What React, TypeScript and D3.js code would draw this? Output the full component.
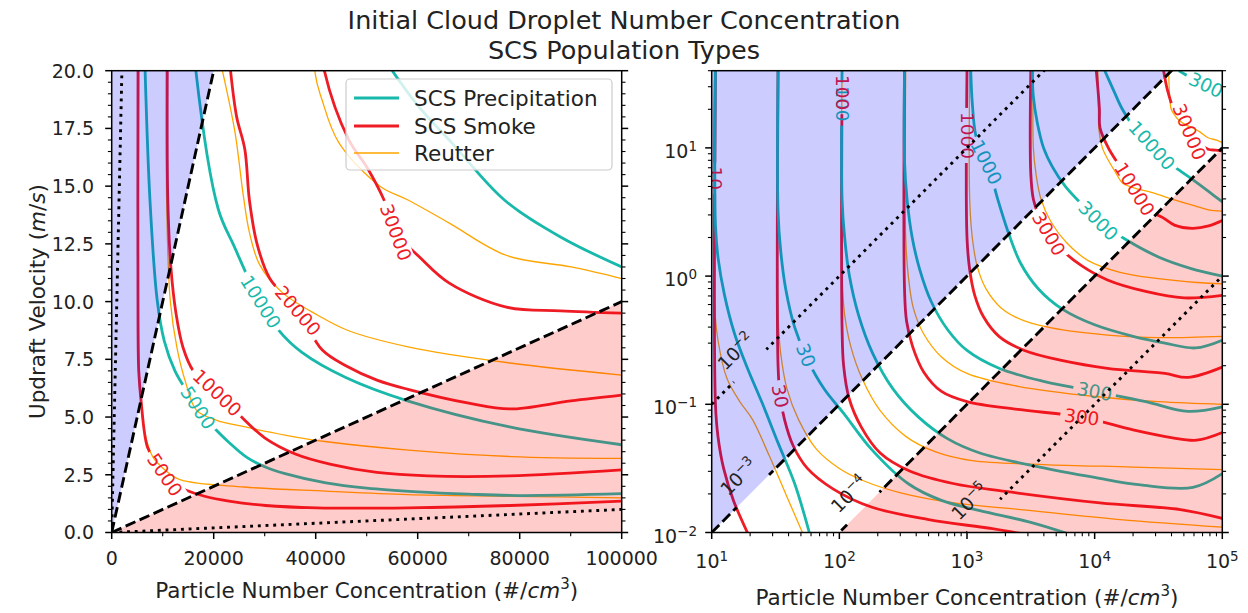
import React from "react";
import * as d3 from "d3";

type Pt = [number, number];
type Series = "precip" | "smoke" | "reutter";

// ---- contour lines: [particle number N (#/cm3), updraft w (m/s)] ----
// linear panel
const precip5000: Pt[] = [[6550, 20], [7500, 14.4], [8900, 10.1], [10300, 8.3], [12400, 7.0], [14500, 6.2], [16900, 5.4], [19800, 4.6], [23000, 3.9], [26500, 3.25], [30000, 2.85], [34000, 2.55], [42000, 2.15], [50000, 1.92], [60000, 1.76], [70000, 1.66], [80000, 1.6], [100000, 1.68]];
const precip20000: Pt[] = [[55000, 20], [60000, 18.5], [67000, 16.8], [77000, 14.4], [88000, 12.8], [100000, 11.5]];
const smoke5000: Pt[] = [[5160, 20], [5160, 9], [5300, 7], [5760, 5.7], [7000, 3.7], [8560, 3.1], [10400, 2.5], [12000, 2.1], [14200, 1.86], [18200, 1.57], [23000, 1.36], [30200, 1.17], [40200, 1.07], [58200, 1.07], [78200, 1.17], [100000, 1.36]];
const smoke10000Lin: Pt[] = [[10900, 20], [11000, 14.4], [11600, 11.5], [12600, 9.5], [14000, 8.0], [16000, 7.0], [18500, 6.5], [20900, 6.0], [25000, 5.1], [30000, 4.1], [36000, 3.4], [43000, 2.95], [52000, 2.6], [62000, 2.45], [78000, 2.45], [100000, 2.71]];
const smoke20000: Pt[] = [[23300, 20], [24500, 18], [26100, 16.6], [27000, 14.4], [28500, 12.5], [31000, 11.0], [36500, 9.6], [41300, 7.9], [46100, 7.2], [52000, 6.6], [58100, 6.2], [70000, 5.6], [78000, 5.35], [90000, 5.7], [100000, 5.95]];
const reutter5000: Pt[] = [[5300, 20], [5300, 8], [5600, 6], [6500, 4.3], [8000, 3.3], [10500, 2.7], [13400, 2.29], [26000, 1.97], [42000, 1.79], [58000, 1.64], [78000, 1.57], [100000, 1.5]];
const reutter20000: Pt[] = [[21700, 20], [24200, 17.3], [25800, 14.6], [27000, 13.0], [29000, 11.6], [33400, 10.4], [40500, 9.4], [46100, 8.77], [58100, 8.04], [78100, 7.34], [100000, 6.82]];

// levels drawn in both panels
const precip10000: Pt[] = [[12000, 40], [14100, 28], [16500, 20], [20900, 14], [24000, 12.4], [28600, 10.2], [32600, 8.8], [37300, 7.8], [46000, 6.7], [58000, 5.7], [78000, 4.57], [100000, 3.8]];
const precip30000: Pt[] = [[45700, 40], [56200, 35.5], [70800, 31.6], [100000, 26.9]];
const smoke30000: Pt[] = [[34700, 40], [37200, 28.2], [41700, 20], [46500, 17], [50100, 15.8], [53400, 14.4], [55700, 13], [60500, 11.9], [66200, 10.8], [77400, 9.76], [88000, 9.6], [100000, 9.5]];
const reutter10000: Pt[] = [[10600, 40], [10700, 20], [10800, 14], [11500, 10], [12800, 8], [14500, 6.5], [16600, 5.3], [20600, 4.86], [26200, 4.57], [34200, 4.21], [42200, 3.93], [58200, 3.57], [78200, 3.29], [100000, 3.21]];
const reutter30000: Pt[] = [[38000, 40], [39800, 20], [41300, 18.7], [44500, 16.9], [52600, 15], [58100, 14.4], [66200, 13.4], [77400, 12], [90100, 11.5], [100000, 11]];

// log panel
const smoke10000Log: Pt[] = [[10300, 40], [10900, 20], [11000, 14.4], [12800, 10], [14800, 7.9], [16800, 6.6], [21000, 4.6], [26200, 3.3], [34200, 2.86], [42200, 2.5], [58200, 2.36], [78200, 2.46], [100000, 2.71]];
const precip10: Pt[] = [[10.7, 40], [10.7, 2.5], [11.2, 1.4], [12.6, 0.71], [15.1, 0.355], [19.1, 0.19], [25.1, 0.1], [33.1, 0.05], [44.7, 0.024], [59, 0.0095]];
const precip30: Pt[] = [[33.1, 40], [33.1, 3.16], [34.7, 1.58], [38, 0.794], [44.7, 0.398], [56.2, 0.224], [75.9, 0.132], [110, 0.0832], [178, 0.0447], [347, 0.024], [631, 0.0178], [1260, 0.0148], [3160, 0.012], [6760, 0.0095]];
const precip100: Pt[] = [[105, 40], [105, 3.98], [110, 2.0], [120, 1.0], [141, 0.501], [182, 0.251], [263, 0.132], [417, 0.0794], [708, 0.0537], [1260, 0.0417], [3720, 0.0324], [10000, 0.0269], [22900, 0.0235], [58900, 0.0225], [100000, 0.0288]];
const precip300: Pt[] = [[324, 40], [324, 7.94], [339, 3.98], [372, 2.0], [427, 1.12], [525, 0.631], [708, 0.38], [1000, 0.263], [1780, 0.191], [3980, 0.151], [10000, 0.126], [25100, 0.105], [53700, 0.088], [100000, 0.0955]];
const precip1000: Pt[] = [[1070, 40], [1100, 22.4], [1170, 12.6], [1320, 8.91], [1480, 7.08], [1740, 3.98], [2090, 2.24], [2630, 1.26], [3630, 0.794], [5620, 0.55], [10000, 0.417], [20000, 0.339], [35500, 0.3], [61700, 0.275], [100000, 0.316]];
const precip3000: Pt[] = [[3240, 40], [3310, 25.1], [3550, 15.8], [3980, 10], [4680, 7.08], [5890, 5.01], [7940, 3.63], [10700, 2.69], [17800, 1.91], [31600, 1.41], [56200, 1.15], [100000, 1.0]];
const smoke10: Pt[] = [[10.7, 40], [10.7, 0.1], [11.2, 0.056], [12.4, 0.0316], [14.8, 0.0178], [19.5, 0.0095]];
const smoke30: Pt[] = [[33.1, 40], [33.1, 0.2], [34.3, 0.117], [37.2, 0.0759], [43.3, 0.0479], [56.2, 0.0316], [89.1, 0.0219], [178, 0.0158], [501, 0.0126], [1580, 0.0107], [3160, 0.0095]];
const smoke100: Pt[] = [[105, 40], [105, 0.398], [108, 0.2], [119, 0.112], [149, 0.0661], [209, 0.0417], [355, 0.0302], [794, 0.024], [2000, 0.0209], [11000, 0.017], [46800, 0.0151], [100000, 0.0129]];
const smoke300: Pt[] = [[324, 40], [324, 0.794], [336, 0.447], [375, 0.282], [459, 0.178], [631, 0.126], [1000, 0.105], [2510, 0.0912], [7940, 0.0794], [20000, 0.0631], [39800, 0.055], [63100, 0.0525], [100000, 0.0603]];
const smoke1000: Pt[] = [[1000, 40], [1000, 2.0], [1050, 1.12], [1150, 0.708], [1350, 0.479], [1780, 0.339], [2820, 0.263], [5620, 0.219], [12600, 0.191], [35500, 0.174], [53700, 0.162], [100000, 0.195]];
const smoke3000: Pt[] = [[3160, 40], [3160, 6.31], [3310, 3.98], [3720, 2.82], [4370, 2.14], [5620, 1.58], [7940, 1.2], [12600, 0.933], [25100, 0.759], [50100, 0.676], [100000, 0.708]];
const reutter10: Pt[] = [[10.5, 40], [10.5, 0.631], [11.2, 0.316], [13.2, 0.158], [16.6, 0.105], [20.9, 0.0759], [28.2, 0.0398], [38, 0.02], [52.5, 0.0095]];
const reutter30: Pt[] = [[33.1, 40], [33.1, 0.501], [34.7, 0.251], [38.9, 0.132], [47.9, 0.0759], [66.1, 0.0447], [100, 0.0316], [158, 0.0251], [302, 0.0204], [794, 0.017], [2630, 0.0151], [15800, 0.0126], [100000, 0.011]];
const reutter100: Pt[] = [[105, 40], [105, 1.0], [110, 0.501], [123, 0.282], [151, 0.158], [209, 0.0891], [331, 0.0562], [562, 0.0427], [1100, 0.0363], [3980, 0.0339], [20000, 0.0324], [100000, 0.0309]];
const reutter300: Pt[] = [[331, 40], [331, 2.0], [347, 1.0], [380, 0.562], [457, 0.355], [631, 0.234], [1000, 0.174], [2510, 0.138], [10000, 0.115], [31600, 0.105], [100000, 0.1]];
const reutter1000: Pt[] = [[1050, 40], [1050, 3.98], [1100, 2.0], [1200, 1.2], [1410, 0.794], [1860, 0.562], [2820, 0.447], [5620, 0.38], [12600, 0.347], [31600, 0.331], [100000, 0.339]];
const reutter3000: Pt[] = [[3310, 40], [3310, 10], [3470, 6.31], [3800, 3.98], [4570, 2.63], [6030, 1.82], [8910, 1.32], [15800, 1.07], [31600, 0.955], [63100, 0.891], [100000, 0.871]];

type Line = { s: Series; level: number; pts: Pt[] };
// drawn in this order: thin Reutter underneath, precipitation on top
const linLines: Line[] = [
  { s: "reutter", level: 5000, pts: reutter5000 },
  { s: "reutter", level: 10000, pts: reutter10000 },
  { s: "reutter", level: 20000, pts: reutter20000 },
  { s: "reutter", level: 30000, pts: reutter30000 },
  { s: "smoke", level: 5000, pts: smoke5000 },
  { s: "smoke", level: 10000, pts: smoke10000Lin },
  { s: "smoke", level: 20000, pts: smoke20000 },
  { s: "smoke", level: 30000, pts: smoke30000 },
  { s: "precip", level: 5000, pts: precip5000 },
  { s: "precip", level: 10000, pts: precip10000 },
  { s: "precip", level: 20000, pts: precip20000 },
];
const logLines: Line[] = [
  { s: "reutter", level: 10, pts: reutter10 },
  { s: "reutter", level: 30, pts: reutter30 },
  { s: "reutter", level: 100, pts: reutter100 },
  { s: "reutter", level: 300, pts: reutter300 },
  { s: "reutter", level: 1000, pts: reutter1000 },
  { s: "reutter", level: 3000, pts: reutter3000 },
  { s: "reutter", level: 10000, pts: reutter10000 },
  { s: "reutter", level: 30000, pts: reutter30000 },
  { s: "smoke", level: 10, pts: smoke10 },
  { s: "smoke", level: 30, pts: smoke30 },
  { s: "smoke", level: 100, pts: smoke100 },
  { s: "smoke", level: 300, pts: smoke300 },
  { s: "smoke", level: 1000, pts: smoke1000 },
  { s: "smoke", level: 3000, pts: smoke3000 },
  { s: "smoke", level: 10000, pts: smoke10000Log },
  { s: "smoke", level: 30000, pts: smoke30000 },
  { s: "precip", level: 10, pts: precip10 },
  { s: "precip", level: 30, pts: precip30 },
  { s: "precip", level: 100, pts: precip100 },
  { s: "precip", level: 300, pts: precip300 },
  { s: "precip", level: 1000, pts: precip1000 },
  { s: "precip", level: 3000, pts: precip3000 },
  { s: "precip", level: 10000, pts: precip10000 },
  { s: "precip", level: 30000, pts: precip30000 },
];

// inline contour label spots (approximate, snapped onto the line)
type Lab = { s: Series; level: number; at: Pt };
const linLabels: Lab[] = [
  { s: "precip", level: 5000, at: [16900, 5.4] },
  { s: "smoke", level: 5000, at: [10400, 2.5] },
  { s: "smoke", level: 10000, at: [20900, 6.1] },
  { s: "precip", level: 10000, at: [28600, 9.9] },
  { s: "smoke", level: 20000, at: [36500, 9.6] },
  { s: "smoke", level: 30000, at: [55700, 13.0] },
];
const logLabels: Lab[] = [
  { s: "smoke", level: 10, at: [10.7, 5.8] },
  { s: "precip", level: 100, at: [105, 22] },
  { s: "smoke", level: 100, at: [105, 27] },
  { s: "smoke", level: 1000, at: [1000, 12.5] },
  { s: "precip", level: 1000, at: [1480, 7.9] },
  { s: "precip", level: 3000, at: [10700, 2.7] },
  { s: "smoke", level: 3000, at: [4370, 2.14] },
  { s: "precip", level: 10000, at: [28800, 10.7] },
  { s: "smoke", level: 10000, at: [21500, 4.9] },
  { s: "smoke", level: 30000, at: [62000, 14] },
  { s: "precip", level: 30000, at: [90000, 28] },
  { s: "precip", level: 30, at: [54, 0.24] },
  { s: "smoke", level: 30, at: [36, 0.117] },
  { s: "precip", level: 300, at: [10000, 0.126] },
  { s: "smoke", level: 300, at: [7940, 0.08] },
];

// w/N ratio lines and their labels (log panel)
const ratios = [1e-2, 1e-3, 1e-4, 1e-5];
const ratioExp = ["\u22122", "\u22123", "\u22124", "\u22125"];
const ratioLabelN = [20, 21, 154, 1355];
const seriesNames = ["SCS Precipitation", "SCS Smoke", "Reutter"];
const seriesKeys: Series[] = ["precip", "smoke", "reutter"];

const W = 1248, H = 613;
const FONT = "'DejaVu Sans', sans-serif";
const FS = 19; // tick labels
const AFS = 21.5; // axis labels, legend
const LFS = 18.5; // contour labels
const COL: Record<Series, string> = { precip: "#18b9ab", smoke: "#ee1c25", reutter: "#ffa500" };
const LW: Record<Series, number> = { precip: 2.8, smoke: 2.8, reutter: 1.3 };

const linX = d3.scaleLinear().domain([0, 100000]).range([111.7, 621.7]);
const linY = d3.scaleLinear().domain([0, 20]).range([532.5, 70.7]);
const logX = d3.scaleLog().domain([10, 1e5]).range([711.7, 1222.3]);
const logY = d3.scaleLog().domain([0.01, 40]).range([532.5, 70.7]);

function snap(poly: number[][], t: number[]) {
  let best = { d: Infinity, x: 0, y: 0, a: 0 };
  for (let i = 0; i < poly.length - 1; i++) {
    const [x1, y1] = poly[i], [x2, y2] = poly[i + 1];
    const dx = x2 - x1, dy = y2 - y1;
    const L2 = dx * dx + dy * dy;
    if (L2 < 1e-6) continue;
    let u = ((t[0] - x1) * dx + (t[1] - y1) * dy) / L2;
    u = Math.max(0, Math.min(1, u));
    const px = x1 + u * dx, py = y1 + u * dy;
    const d = Math.hypot(t[0] - px, t[1] - py);
    if (d < best.d) {
      let a = (Math.atan2(dy, dx) * 180) / Math.PI;
      if (a > 90) a -= 180;
      if (a < -90) a += 180;
      best = { d, x: px, y: py, a };
    }
  }
  return best;
}

function Panel({ id, xs, ys, lines, labels, fills, diagLabels }: any) {
  const [xa, xb] = xs.range();
  const [yb, ya] = ys.range();
  const gen = d3.line<Pt>().x((d) => xs(d[0])).y((d) => ys(d[1])).curve(d3.curveCatmullRom.alpha(0.5));
  const lin = d3.line<Pt>().x((d) => xs(d[0])).y((d) => ys(d[1]));
  const placed = labels.map((lb: Lab) => {
    const ln = lines.find((l: Line) => l.s === lb.s && l.level === lb.level);
    const poly = ln.pts.map((p: Pt) => [xs(p[0]), ys(p[1])]);
    const sp = snap(poly, [xs(lb.at[0]), ys(lb.at[1])]);
    const text = String(lb.level);
    return { ...sp, text, s: lb.s, level: lb.level, w: text.length * 0.636 * LFS + 8 };
  });
  const [n0, n1] = xs.domain();
  const diag = ratios.map((r, i) => {
    const p0: Pt = [n0, n0 * r], p1: Pt = [n1, n1 * r];
    const dx = xs(p1[0]) - xs(p0[0]), dy = ys(p1[1]) - ys(p0[1]);
    const len = Math.hypot(dx, dy);
    const a = (Math.atan2(dy, dx) * 180) / Math.PI;
    let lab = null as any;
    if (diagLabels) {
      const fx = xs(ratioLabelN[i]), fy = ys(ratioLabelN[i] * r);
      // text sits a little above-left of the gap, as in the figure
      lab = { fx, fy, tx: fx + (dy / len) * 20, ty: fy - (dx / len) * 20, a, w: 46 };
    }
    return { i, p0, p1, lab, dotted: i === 0 || i === 3 };
  });
  return (
    <g>
      <clipPath id={`${id}-clip`}>
        <rect x={xa} y={ya} width={xb - xa} height={yb - ya} />
      </clipPath>
      <g clipPath={`url(#${id}-clip)`}>
        {lines.map((l: Line, i: number) => {
          const mine = placed.filter((p: any) => p.s === l.s && p.level === l.level);
          const mid = `${id}-m${i}`;
          return (
            <g key={i}>
              {mine.length > 0 && (
                <mask id={mid} maskUnits="userSpaceOnUse" x={0} y={0} width={W} height={H}>
                  <rect x={0} y={0} width={W} height={H} fill="white" />
                  {mine.map((p: any, j: number) => (
                    <rect key={j} x={-p.w / 2} y={-LFS * 0.5} width={p.w} height={LFS} fill="black"
                      transform={`translate(${p.x},${p.y}) rotate(${p.a})`} />
                  ))}
                </mask>
              )}
              <path d={gen(l.pts) || ""} fill="none" stroke={COL[l.s]} strokeWidth={LW[l.s]}
                mask={mine.length ? `url(#${mid})` : undefined} />
            </g>
          );
        })}
        {placed.map((p: any, i: number) => (
          <text key={i} transform={`translate(${p.x},${p.y}) rotate(${p.a})`} textAnchor="middle"
            dominantBaseline="central" fontSize={LFS} fill={COL[p.s as Series]}>{p.text}</text>
        ))}
        {fills.map((f: any, i: number) => (
          <path key={i} d={(lin(f.pts) || "") + "Z"} fill={f.color} fillOpacity={0.2} stroke="none" />
        ))}
        {diag.map((d: any) => (
          <g key={d.i}>
            {d.lab && (
              <mask id={`${id}-dm${d.i}`} maskUnits="userSpaceOnUse" x={0} y={0} width={W} height={H}>
                <rect x={0} y={0} width={W} height={H} fill="white" />
                <rect x={-d.lab.w / 2} y={-LFS * 0.5} width={d.lab.w} height={LFS} fill="black"
                  transform={`translate(${d.lab.fx},${d.lab.fy}) rotate(${d.lab.a})`} />
              </mask>
            )}
            <path d={lin([d.p0, d.p1]) || ""} stroke="black" fill="none" strokeWidth={2.9}
              strokeDasharray={d.dotted ? "2.9 4.8" : "10.7 4.6"}
              mask={d.lab ? `url(#${id}-dm${d.i})` : undefined} />
            {d.lab && (
              <text transform={`translate(${d.lab.tx},${d.lab.ty}) rotate(${d.lab.a})`} textAnchor="middle"
                dominantBaseline="central" fontSize={LFS} fill="#222">
                10<tspan dy={-6} fontSize={13}>{ratioExp[d.i]}</tspan>
              </text>
            )}
          </g>
        ))}
      </g>
      <rect x={xa} y={ya} width={xb - xa} height={yb - ya} fill="none" stroke="black" strokeWidth={1.5} />
    </g>
  );
}

function LinTicks() {
  const xMaj = d3.range(0, 100001, 20000);
  const xMin = d3.range(10000, 100000, 20000);
  const yMaj = d3.range(0, 20.001, 2.5);
  const yMin = d3.range(0, 20.001, 0.5).filter((v) => Math.abs(v / 2.5 - Math.round(v / 2.5)) > 1e-6);
  const [xa, xb] = linX.range();
  const yb = linY.range()[0];
  return (
    <g stroke="black">
      {xMaj.map((v) => <line key={"xM" + v} x1={linX(v)} x2={linX(v)} y1={yb} y2={yb + 6.5} strokeWidth={1.5} />)}
      {xMin.map((v) => <line key={"xm" + v} x1={linX(v)} x2={linX(v)} y1={yb} y2={yb + 3.8} strokeWidth={1.1} />)}
      {yMaj.map((v) => (
        <g key={"yM" + v}>
          <line x1={xa - 6.5} x2={xa} y1={linY(v)} y2={linY(v)} strokeWidth={1.5} />
          <line x1={xb} x2={xb + 6.5} y1={linY(v)} y2={linY(v)} strokeWidth={1.5} />
        </g>
      ))}
      {yMin.map((v) => (
        <g key={"ym" + v}>
          <line x1={xa - 3.8} x2={xa} y1={linY(v)} y2={linY(v)} strokeWidth={1.1} />
          <line x1={xb} x2={xb + 3.8} y1={linY(v)} y2={linY(v)} strokeWidth={1.1} />
        </g>
      ))}
      <g stroke="none" fill="#222" fontSize={FS}>
        {xMaj.map((v) => <text key={"xt" + v} x={linX(v)} y={565} textAnchor="middle">{String(v)}</text>)}
        {yMaj.map((v) => <text key={"yt" + v} x={94} y={linY(v) + 6.9} textAnchor="end">{v.toFixed(1)}</text>)}
      </g>
    </g>
  );
}

function LogTicks() {
  const xMaj = [10, 100, 1000, 10000, 100000];
  const xExp = ["1", "2", "3", "4", "5"];
  const yMaj = [0.01, 0.1, 1, 10];
  const yExp = ["\u22122", "\u22121", "0", "1"];
  const mult = d3.range(2, 10);
  const xMin = xMaj.slice(0, 4).flatMap((d) => mult.map((k) => d * k));
  const yMin = yMaj.flatMap((d) => mult.map((k) => d * k)).filter((v) => v <= 40);
  const [xa, xb] = logX.range();
  const yb = logY.range()[0];
  return (
    <g stroke="black">
      {xMaj.map((v) => <line key={"xM" + v} x1={logX(v)} x2={logX(v)} y1={yb} y2={yb + 6.5} strokeWidth={1.5} />)}
      {xMin.map((v) => <line key={"xm" + v} x1={logX(v)} x2={logX(v)} y1={yb} y2={yb + 3.8} strokeWidth={1.1} />)}
      {yMaj.map((v) => (
        <g key={"yM" + v}>
          <line x1={xa - 6.5} x2={xa} y1={logY(v)} y2={logY(v)} strokeWidth={1.5} />
          <line x1={xb} x2={xb + 6.5} y1={logY(v)} y2={logY(v)} strokeWidth={1.5} />
        </g>
      ))}
      {yMin.map((v) => (
        <g key={"ym" + v}>
          <line x1={xa - 3.8} x2={xa} y1={logY(v)} y2={logY(v)} strokeWidth={1.1} />
          <line x1={xb} x2={xb + 3.8} y1={logY(v)} y2={logY(v)} strokeWidth={1.1} />
        </g>
      ))}
      <g stroke="none" fill="#222" fontSize={FS}>
        {xMaj.map((v, i) => (
          <text key={"xt" + v} x={logX(v)} y={568} textAnchor="middle">
            10<tspan dy={-7} fontSize={13.5}>{xExp[i]}</tspan>
          </text>
        ))}
        {yMaj.map((v, i) => (
          <text key={"yt" + v} x={697} y={logY(v) + 10} textAnchor="end">
            10<tspan dy={-7} fontSize={13.5}>{yExp[i]}</tspan>
          </text>
        ))}
      </g>
    </g>
  );
}

function Legend() {
  const x0 = 346, y0 = 79, rowY = [98, 126, 153];
  return (
    <g>
      <rect x={x0} y={y0} width={266} height={91} rx={4} fill="white" fillOpacity={0.8} stroke="#cccccc" strokeWidth={1.2} />
      {seriesKeys.map((k, i) => (
        <g key={k}>
          <line x1={354} x2={399} y1={rowY[i]} y2={rowY[i]} stroke={COL[k]} strokeWidth={LW[k]} />
          <text x={414} y={rowY[i] + 7.8} fontSize={AFS} fill="#222">{seriesNames[i]}</text>
        </g>
      ))}
    </g>
  );
}

export default function App() {
  const linFills = [
    { color: "#0000ff", pts: [[0, 0], [20 / ratios[1], 20], [0, 20]] },
    { color: "#ff0000", pts: [[0, 0], [100000, 0], [100000, 100000 * ratios[2]]] },
  ];
  const logFills = [
    { color: "#0000ff", pts: [[10, 10 * ratios[1]], [40 / ratios[1], 40], [10, 40]] },
    { color: "#ff0000", pts: [[0.01 / ratios[2], 0.01], [100000, 100000 * ratios[2]], [100000, 0.01]] },
  ];
  return (
    <div style={{ position: "absolute", left: 0, top: 0 }}>
      <svg width={W} height={H} style={{ display: "block", fontFamily: FONT, background: "white" }}>
        <text x={624} y={29} textAnchor="middle" fontSize={25.5} fill="#222">Initial Cloud Droplet Number Concentration</text>
        <text x={624} y={59} textAnchor="middle" fontSize={25.5} fill="#222">SCS Population Types</text>

        <Panel id="lin" xs={linX} ys={linY} lines={linLines} labels={linLabels} fills={linFills} diagLabels={false} />
        <LinTicks />
        <Legend />

        <Panel id="log" xs={logX} ys={logY} lines={logLines} labels={logLabels} fills={logFills} diagLabels={true} />
        <LogTicks />

        <text transform="translate(45,301.6) rotate(-90)" textAnchor="middle" fontSize={AFS} fill="#222">
          Updraft Velocity (<tspan fontStyle="italic">m</tspan>/<tspan fontStyle="italic">s</tspan>)
        </text>
        <text x={366.7} y={598} textAnchor="middle" fontSize={AFS} fill="#222">
          Particle Number Concentration (#/<tspan fontStyle="italic">cm</tspan>
          <tspan dy={-9} fontSize={15}>3</tspan><tspan dy={9}>)</tspan>
        </text>
        <text x={967} y={605} textAnchor="middle" fontSize={AFS} fill="#222">
          Particle Number Concentration (#/<tspan fontStyle="italic">cm</tspan>
          <tspan dy={-9} fontSize={15}>3</tspan><tspan dy={9}>)</tspan>
        </text>
      </svg>
    </div>
  );
}
